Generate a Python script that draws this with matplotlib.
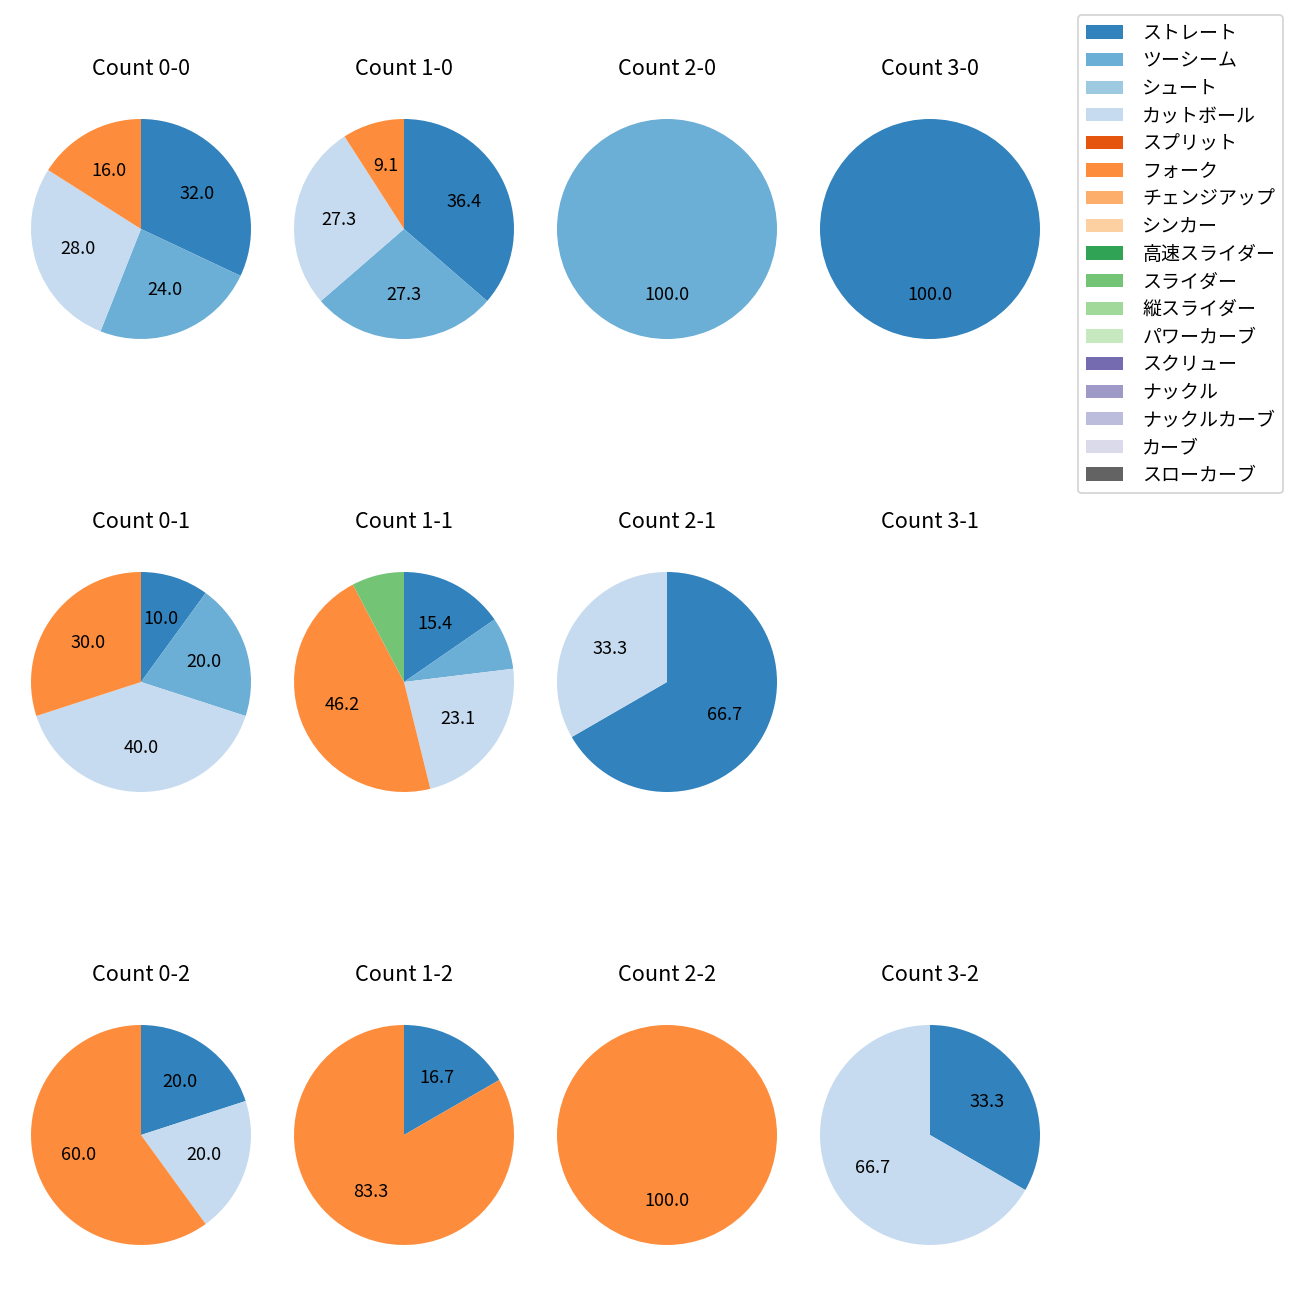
import matplotlib.pyplot as plt
from matplotlib.patches import Patch

plt.rcParams['font.family'] = ['Noto Sans CJK JP', 'DejaVu Sans']

pitch_types = ["ストレート", "ツーシーム", "シュート", "カットボール", "スプリット",
               "フォーク", "チェンジアップ", "シンカー", "高速スライダー", "スライダー",
               "縦スライダー", "パワーカーブ", "スクリュー", "ナックル", "ナックルカーブ",
               "カーブ", "スローカーブ"]
colors = ["#3182bd", "#6baed6", "#9ecae1", "#c6dbef", "#e6550d",
          "#fd8d3c", "#fdae6b", "#fdd0a2", "#31a354", "#74c476",
          "#a1d99b", "#c7e9c0", "#756bb1", "#9e9ac8", "#bcbddc",
          "#dadaeb", "#636363"]

# pitch counts per ball-strike count (only non-zero pitch types)
counts = {
    "0-0": {"ストレート": 8, "ツーシーム": 6, "カットボール": 7, "フォーク": 4},
    "1-0": {"ストレート": 4, "ツーシーム": 3, "カットボール": 3, "フォーク": 1},
    "2-0": {"ツーシーム": 1},
    "3-0": {"ストレート": 1},
    "0-1": {"ストレート": 1, "ツーシーム": 2, "カットボール": 4, "フォーク": 3},
    "1-1": {"ストレート": 2, "ツーシーム": 1, "カットボール": 3, "フォーク": 6, "スライダー": 1},
    "2-1": {"ストレート": 2, "カットボール": 1},
    "3-1": {},
    "0-2": {"ストレート": 1, "カットボール": 1, "フォーク": 3},
    "1-2": {"ストレート": 1, "フォーク": 5},
    "2-2": {"フォーク": 1},
    "3-2": {"ストレート": 1, "カットボール": 2},
}
strikes = [0, 1, 2]
balls = [0, 1, 2, 3]

color_map = dict(zip(pitch_types, colors))

fig = plt.figure(figsize=(10, 10), dpi=130)
W = H = 1300.0
box = 275.0
for i, s in enumerate(strikes):
    for j, b in enumerate(balls):
        cx = 141 + 263 * j
        cy = 229 + 453 * i
        ax = fig.add_axes([(cx - box / 2) / W, 1 - (cy + box / 2) / H, box / W, box / H])
        key = f"{b}-{s}"
        data = counts[key]
        ax.set_title(f"Count {key}", fontsize=12, pad=9)
        if not data:
            ax.axis('off')
            continue
        labels = [p for p in pitch_types if p in data]
        vals = [data[p] for p in labels]
        ax.pie(vals, colors=[color_map[p] for p in labels], startangle=90,
               counterclock=False,
               autopct=lambda p: f"{p:.1f}" if p >= 8 else "",
               textprops={'fontsize': 10})

handles = [Patch(facecolor=c, label=p) for p, c in zip(pitch_types, colors)]
fig.legend(handles=handles, loc='upper right', bbox_to_anchor=(1283 / W, 1 - 15 / H),
           borderaxespad=0, fontsize=10.5, handletextpad=1.0, labelspacing=0.35)

fig.savefig("out.png", dpi=130)
